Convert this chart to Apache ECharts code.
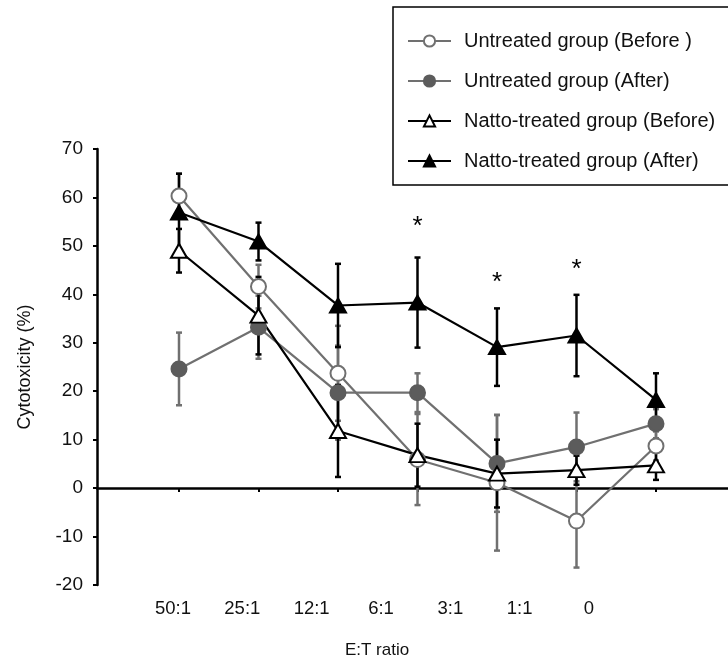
<!DOCTYPE html>
<html><head><meta charset="utf-8">
<script src="https://cdn.jsdelivr.net/npm/echarts@6/dist/echarts.min.js"></script>
<style>html,body{margin:0;padding:0;background:#fff}#c{width:728px;height:657px}</style>
</head><body><div id="c"></div>
<script>
const categories = ['50:1', '25:1', '12:1', '6:1', '3:1', '1:1', '0'];
const seriesNames = ['Untreated group (Before )', 'Untreated group (After)', 'Natto-treated group (Before)', 'Natto-treated group (After)'];
const untreatedBefore    = [60.3, 41.6, 23.7, 5.9, 1.1, -6.8, 8.7];
const untreatedBeforeErr = [4.6, 4.5, 9.8, 9.4, 14.0, 9.6, 3.0];
const untreatedAfter     = [24.6, 33.2, 19.7, 19.7, 5.1, 8.5, 13.3];
const untreatedAfterErr  = [7.5, 6.5, 9.7, 4.0, 10.0, 7.1, 3.0];
const nattoBefore        = [49.0, 35.6, 11.8, 6.8, 3.0, 3.7, 4.7];
const nattoBeforeErr     = [4.5, 8.0, 9.5, 6.5, 7.0, 3.0, 3.0];
const nattoAfter         = [56.9, 50.9, 37.7, 38.3, 29.1, 31.5, 18.2];
const nattoAfterErr      = [8.0, 3.9, 8.6, 9.3, 8.0, 8.4, 5.5];
const sigIndex = [3, 4, 5];
const sigY     = [53.9, 42.4, 45.1];

const FONT = 'Liberation Sans, Arial, sans-serif';
const GRAY = '#707070', GRAYFILL = '#5c5c5c', BLACK = '#000';
const idx = categories.map((_, i) => i);

function pts(vals) { return vals.map((v, i) => [i, v]); }
function errData(vals, errs) { return vals.map((v, i) => [i, v - errs[i], v + errs[i]]); }
function errSeries(vals, errs, color) {
  return {
    type: 'custom', xAxisIndex: 0, yAxisIndex: 0, z: 1, silent: true,
    data: errData(vals, errs),
    renderItem: function (params, api) {
      const x = api.value(0);
      const a = api.coord([x, api.value(2)]);
      const b = api.coord([x, api.value(1)]);
      const w = 3;
      const st = { stroke: color, lineWidth: 2.5 };
      return { type: 'group', children: [
        { type: 'line', shape: { x1: a[0], y1: a[1], x2: b[0], y2: b[1] }, style: st },
        { type: 'line', shape: { x1: a[0] - w, y1: a[1], x2: a[0] + w, y2: a[1] }, style: st },
        { type: 'line', shape: { x1: b[0] - w, y1: b[1], x2: b[0] + w, y2: b[1] }, style: st }
      ]};
    }
  };
}
function lineSeries(name, vals, color, symbol, size, fill, border) {
  return {
    name: name, type: 'line', xAxisIndex: 0, yAxisIndex: 0, z: 3,
    data: pts(vals), symbol: symbol, symbolSize: size, showAllSymbol: true,
    lineStyle: { color: color, width: 2.2 },
    itemStyle: { color: fill, borderColor: border, borderWidth: 2 },
    emphasis: { disabled: true }
  };
}

const chart = echarts.init(document.getElementById('c'), null, { renderer: 'canvas' });
chart.setOption({
  animation: false,
  backgroundColor: '#fff',
  textStyle: { fontFamily: FONT },
  title: {
    text: 'E:T ratio', left: 372, top: 637, textAlign: 'center',
    textStyle: { fontFamily: FONT, fontSize: 17, fontWeight: 'normal', color: '#111' }
  },
  legend: {
    orient: 'vertical', left: 393, top: 7,
    padding: [24, 60, 14, 14],
    borderColor: '#000', borderWidth: 1.5,
    itemWidth: 43, itemHeight: 14, itemGap: 20,
    textStyle: { fontFamily: FONT, fontSize: 20, color: '#111', lineHeight: 20, padding: [0, 0, 0, 8] },
    data: seriesNames
  },
  grid: { left: 97, right: 0, top: 149, bottom: 72, containLabel: false },
  xAxis: [
    {
      type: 'value', min: -1.0314, max: 6.9057, position: 'bottom',
      splitLine: { show: false },
      axisLine: { onZero: true, lineStyle: { color: '#000', width: 2.5 } },
      axisTick: { show: true, customValues: idx, length: 4, inside: false, lineStyle: { color: '#000', width: 2 } },
      axisLabel: { show: false }
    },
    {
      type: 'value', min: -1.096, max: 8.005, position: 'bottom',
      splitLine: { show: false },
      axisLine: { show: false, onZero: false },
      axisTick: { show: false },
      axisLabel: {
        show: true, customValues: idx, margin: 14,
        fontFamily: FONT, fontSize: 18.5, color: '#111',
        formatter: function (v) { return categories[Math.round(v)]; }
      }
    }
  ],
  yAxis: {
    type: 'value', min: -20, max: 70, interval: 10,
    name: 'Cytotoxicity (%)', nameLocation: 'middle', nameGap: 63, nameRotate: 90,
    nameTextStyle: { fontFamily: FONT, fontSize: 18, color: '#111' },
    splitLine: { show: false },
    axisLine: { show: true, onZero: false, lineStyle: { color: '#000', width: 2.5 } },
    axisTick: { show: true, length: 4, inside: false, lineStyle: { color: '#000', width: 2 } },
    axisLabel: { margin: 14, fontFamily: FONT, fontSize: 19, color: '#111' }
  },
  series: [
    errSeries(untreatedBefore, untreatedBeforeErr, GRAY),
    errSeries(untreatedAfter, untreatedAfterErr, GRAY),
    errSeries(nattoBefore, nattoBeforeErr, BLACK),
    errSeries(nattoAfter, nattoAfterErr, BLACK),
    lineSeries(seriesNames[0], untreatedBefore, GRAY, 'circle', 15, '#fff', GRAY),
    lineSeries(seriesNames[1], untreatedAfter, GRAY, 'circle', 15, GRAYFILL, GRAYFILL),
    lineSeries(seriesNames[2], nattoBefore, BLACK, 'triangle', [16, 14], '#fff', BLACK),
    lineSeries(seriesNames[3], nattoAfter, BLACK, 'triangle', [16, 14], BLACK, BLACK),
    {
      type: 'custom', xAxisIndex: 0, yAxisIndex: 0, silent: true, z: 4,
      data: sigIndex.map((i, k) => [i, sigY[k]]),
      renderItem: function (params, api) {
        const p = api.coord([api.value(0), api.value(1)]);
        return {
          type: 'text', x: p[0], y: p[1],
          style: { text: '*', fontFamily: FONT, fontSize: 26, fill: '#000', align: 'center', verticalAlign: 'middle' }
        };
      }
    }
  ]
});
</script></body></html>
